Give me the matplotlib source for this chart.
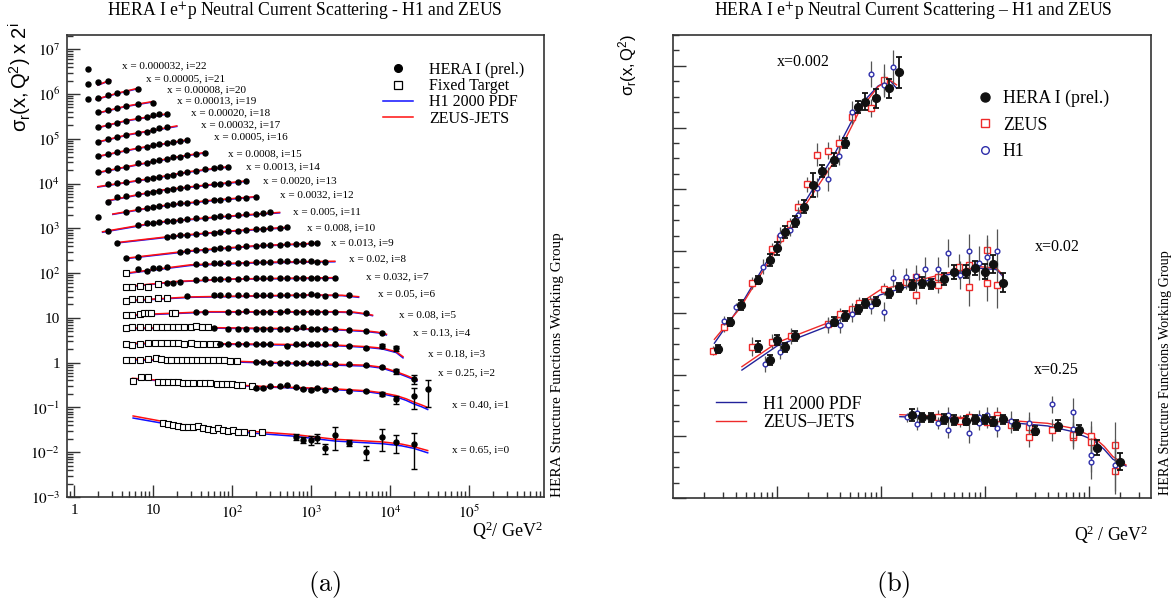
import matplotlib
matplotlib.use('Agg')
from matplotlib import pyplot as plt
from matplotlib.lines import Line2D
from matplotlib.ticker import FixedLocator, FixedFormatter, LogLocator, MultipleLocator, NullFormatter

plt.rcParams['font.family'] = ['Liberation Serif', 'DejaVu Serif']
plt.rcParams['mathtext.fontset'] = 'stix'

# ---------------- (a) all x bins, sigma_r x 2^i ----------------
x_labels = ['0.65', '0.40', '0.25', '0.18', '0.13', '0.08', '0.05', '0.032', '0.02', '0.013',
            '0.008', '0.005', '0.0032', '0.0020', '0.0013', '0.0008', '0.0005', '0.00032',
            '0.00020', '0.00013', '0.00008', '0.00005', '0.000032']

hera_q2 = [
    [650, 800, 1000, 1200, 1500, 2000, 3000, 5000, 8000, 12000, 20000],
    [200, 250, 300, 400, 500, 650, 800, 1000, 1200, 1500, 2000, 3000, 5000, 8000, 12000, 20000, 30000],
    [200, 250, 300, 400, 500, 650, 800, 1000, 1200, 1500, 2000, 3000, 5000, 8000, 12000, 20000],
    [70, 90, 120, 150, 200, 250, 300, 500, 650, 800, 1000, 1200, 1500, 2000, 3000, 5000, 8000, 12000],
    [60, 90, 120, 150, 200, 250, 300, 400, 500, 650, 800, 1000, 1200, 1500, 2000, 3000, 5000, 8000],
    [35, 45, 90, 120, 150, 200, 250, 300, 400, 500, 650, 800, 1000, 1200, 1500, 2000, 3000, 5000],
    [27, 60, 70, 90, 120, 150, 200, 250, 300, 400, 500, 650, 800, 1000, 1200, 1500, 2000, 3000],
    [15, 18, 22, 35, 45, 60, 70, 90, 120, 150, 200, 250, 300, 400, 500, 650, 800, 1000, 1200, 1500, 2000],
    [6.5, 8.5, 10, 12, 15, 35, 45, 60, 70, 90, 120, 150, 200, 250, 300, 400, 500, 650, 800, 1000, 1200, 1500],
    [4.5, 6.5, 22, 27, 35, 45, 60, 70, 90, 120, 150, 200, 250, 300, 400, 500, 650, 800, 1000, 1200],
    [3.5, 15, 18, 22, 27, 35, 45, 60, 70, 90, 120, 150, 200, 250, 300, 400, 500],
    [2.7, 6.5, 8.5, 10, 12, 15, 18, 22, 27, 35, 45, 60, 70, 90, 120, 150, 200, 250, 300],
    [2, 4.5, 6.5, 8.5, 10, 12, 15, 18, 22, 27, 35, 45, 60, 70, 90, 120, 150, 200],
    [2.7, 3.5, 4.5, 6.5, 8.5, 10, 12, 15, 18, 22, 27, 35, 45, 60, 70, 90, 120, 150],
    [2.7, 3.5, 4.5, 6.5, 8.5, 10, 12, 15, 18, 22, 27, 35, 45, 60, 70, 90],
    [2, 2.7, 3.5, 4.5, 6.5, 8.5, 10, 12, 15, 18, 22, 27, 35, 45],
    [2, 2.7, 3.5, 4.5, 6.5, 8.5, 10, 12, 15, 18, 22, 27],
    [2, 2.7, 3.5, 4.5, 6.5, 8.5, 10, 12, 15],
    [2, 2.7, 3.5, 4.5, 6.5, 8.5, 10, 12, 15],
    [2, 2.7, 3.5, 4.5, 6.5, 10],
    [1.5, 2, 2.7, 3.5, 4.5, 6.5],
    [1.5, 2, 2.7],
    [1.5],
]
hera_sig = [
    [0.0222, 0.0188, 0.0188, 0.0205, 0.0122, 0.0243, 0.0163, 0.0103, 0.0216, 0.0167, 0.0153],
    [0.134, 0.134, 0.150, 0.150, 0.158, 0.141, 0.127, 0.123, 0.134, 0.123, 0.127, 0.116, 0.116, 0.098, 0.076, 0.090, 0.127],
    [0.26, 0.26, 0.25, 0.25, 0.25, 0.25, 0.24, 0.24, 0.24, 0.24, 0.23, 0.23, 0.22, 0.20, 0.16, 0.11],
    [0.33, 0.33, 0.33, 0.33, 0.33, 0.33, 0.33, 0.30, 0.32, 0.32, 0.33, 0.32, 0.32, 0.32, 0.30, 0.26, 0.30, 0.26],
    [0.38, 0.35, 0.35, 0.35, 0.35, 0.35, 0.35, 0.35, 0.35, 0.37, 0.40, 0.35, 0.35, 0.35, 0.35, 0.34, 0.32, 0.29],
    [0.43, 0.42, 0.43, 0.43, 0.44, 0.43, 0.43, 0.43, 0.43, 0.44, 0.43, 0.43, 0.43, 0.43, 0.42, 0.43, 0.42, 0.41],
    [0.47, 0.51, 0.51, 0.51, 0.51, 0.51, 0.51, 0.52, 0.51, 0.51, 0.51, 0.52, 0.51, 0.53, 0.51, 0.48, 0.51, 0.52],
    [0.46, 0.48, 0.50, 0.55, 0.57, 0.58, 0.58, 0.58, 0.58, 0.60, 0.60, 0.60, 0.60, 0.60, 0.61, 0.61, 0.61, 0.61, 0.61, 0.60, 0.62],
    [0.48, 0.44, 0.50, 0.50, 0.53, 0.62, 0.62, 0.65, 0.65, 0.67, 0.67, 0.67, 0.68, 0.70, 0.70, 0.73, 0.73, 0.73, 0.72, 0.73, 0.71, 0.70],
    [0.42, 0.45, 0.59, 0.61, 0.63, 0.65, 0.68, 0.70, 0.72, 0.75, 0.78, 0.80, 0.82, 0.83, 0.84, 0.86, 0.87, 0.89, 0.91, 0.91],
    [0.47, 0.64, 0.66, 0.68, 0.71, 0.73, 0.76, 0.78, 0.81, 0.84, 0.87, 0.90, 0.93, 0.96, 0.98, 1.01, 1.03],
    [0.43, 0.58, 0.63, 0.65, 0.68, 0.70, 0.72, 0.75, 0.78, 0.82, 0.84, 0.87, 0.91, 0.94, 0.97, 1.00, 1.04, 1.07, 1.11],
    [0.43, 0.58, 0.65, 0.70, 0.73, 0.77, 0.81, 0.84, 0.89, 0.92, 0.96, 1.00, 1.05, 1.07, 1.11, 1.15, 1.18, 1.25],
    [0.48, 0.60, 0.65, 0.72, 0.77, 0.81, 0.85, 0.89, 0.94, 0.99, 1.03, 1.08, 1.12, 1.18, 1.22, 1.26, 1.33, 1.40],
    [0.59, 0.62, 0.65, 0.72, 0.77, 0.81, 0.86, 0.92, 0.96, 1.04, 1.11, 1.19, 1.27, 1.38, 1.41, 1.46],
    [0.54, 0.61, 0.67, 0.73, 0.87, 0.89, 0.97, 1.03, 1.08, 1.18, 1.22, 1.33, 1.40, 1.49],
    [0.63, 0.70, 0.79, 0.86, 0.94, 1.02, 1.11, 1.17, 1.22, 1.32, 1.39, 1.44],
    [0.66, 0.75, 0.83, 0.93, 1.02, 1.10, 1.20, 1.31, 1.38],
    [0.69, 0.78, 0.87, 0.97, 1.10, 1.19, 1.30, 1.37, 1.37],
    [0.75, 0.84, 0.92, 1.03, 1.13, 1.22],
    [0.75, 0.79, 0.91, 0.99, 1.08, 1.22],
    [0.79, 0.90, 0.95],
    [0.87],
]
# visible error bars only in the high-x bins
hera_err = {
    0: [0.0034, 0.0029, 0.0044, 0.0048, 0.0031, 0.0128, 0.0027, 0.0035, 0.0107, 0.0070, 0.0110],
    1: [0.004, 0.004, 0.004, 0.004, 0.004, 0.004, 0.004, 0.004, 0.004, 0.005, 0.005, 0.006, 0.006, 0.010, 0.015, 0.045, 0.076],
    2: [0.005, 0.005, 0.005, 0.005, 0.005, 0.005, 0.005, 0.005, 0.005, 0.005, 0.006, 0.006, 0.007, 0.010, 0.022, 0.025],
    3: [0.005, 0.005, 0.005, 0.005, 0.005, 0.005, 0.005, 0.005, 0.005, 0.005, 0.005, 0.005, 0.006, 0.006, 0.008, 0.012, 0.030, 0.034],
}

ft_q2 = [
    [13.5, 15.6, 18.1, 20.9, 24.2, 28, 32.4, 37.5, 43.4, 50, 58, 67, 78, 90, 104, 120, 140, 177, 238],
    [5.6, 7.0, 8.7, 11.7, 13.5, 15.6, 18.1, 20.9, 24.2, 28, 32.4, 39.3, 45.5, 52.6, 63.9, 73.8, 85.5, 98.9, 114, 133, 177],
    [4.5, 5.4, 6.8, 8.7, 11, 12.5, 15, 17, 20, 23, 27, 31, 36, 42, 50, 58, 68, 80, 95, 114],
    [4.5, 5.4, 6.8, 8.7, 10.5, 12.5, 15, 18, 21, 25, 30, 36, 43, 52, 62],
    [4.5, 5.4, 6.8, 8.7, 11, 13, 15, 18, 21, 25, 30, 35, 42, 50],
    [4.5, 5.4, 6.8, 7.8, 8.7, 9.5, 17.2, 18.9],
    [4.5, 5.4, 6.8, 8.7, 11.6, 15.1],
    [4.5, 5.4, 6.8, 8.7, 11.6],
    [4.5],
]
ft_sig = [
    [0.0443, 0.0421, 0.0406, 0.0392, 0.0372, 0.0372, 0.0361, 0.0386, 0.0343, 0.0326, 0.0315, 0.0343, 0.0315, 0.0304, 0.0315, 0.0289, 0.0280, 0.0275, 0.0289],
    [0.198, 0.236, 0.236, 0.188, 0.188, 0.188, 0.185, 0.182, 0.178, 0.178, 0.178, 0.173, 0.173, 0.173, 0.167, 0.167, 0.167, 0.167, 0.158, 0.158, 0.150],
    [0.29, 0.29, 0.29, 0.30, 0.31, 0.30, 0.29, 0.29, 0.29, 0.29, 0.29, 0.29, 0.28, 0.28, 0.28, 0.28, 0.28, 0.28, 0.27, 0.27],
    [0.33, 0.31, 0.33, 0.35, 0.35, 0.35, 0.35, 0.35, 0.35, 0.33, 0.35, 0.33, 0.33, 0.33, 0.33],
    [0.38, 0.39, 0.39, 0.40, 0.40, 0.40, 0.40, 0.40, 0.40, 0.40, 0.40, 0.41, 0.39, 0.39],
    [0.36, 0.36, 0.38, 0.40, 0.40, 0.40, 0.41, 0.41],
    [0.38, 0.41, 0.41, 0.41, 0.43, 0.43],
    [0.39, 0.39, 0.40, 0.38, 0.45],
    [0.39],
]

fit_q2 = [
    [5.6, 20, 100, 600, 2000, 8000, 14000, 20000, 30000],
    [5.5, 20, 200, 2000, 5000, 8000, 12000, 16000, 20000, 25000, 30000],
    [4.5, 100, 2000, 5000, 8000, 12000, 16000, 22000],
    [4.5, 100, 2000, 5000, 8000, 12000, 14600],
    [4.5, 50, 2000, 5000, 7000, 9000],
    [4.5, 50, 2000, 3500, 4800, 6000],
    [4.5, 30, 1000, 2500, 4000],
    [4.5, 20, 100, 2000],
    [4.5, 30, 200, 2000],
    [4.5, 30, 200, 1200],
    [3.5, 20, 100, 500],
    [2.3, 12, 60, 400],
    [3.1, 12, 50, 200],
    [2.7, 12, 40, 150],
    [2, 10, 30, 90],
    [2, 8.5, 20, 45],
    [2, 6.5, 28],
    [2, 5, 20],
    [2, 4.5, 15],
    [2, 4.5, 10],
    [1.9, 3.5, 6.5],
    [2, 2.9],
    [],
]
zeus_fit = [
    [0.0645, 0.0427, 0.0315, 0.0250, 0.0195, 0.0170, 0.0152, 0.0133, 0.0109],
    [0.224, 0.19, 0.15, 0.13, 0.118, 0.106, 0.092, 0.078, 0.066, 0.057, 0.05],
    [0.30, 0.27, 0.23, 0.22, 0.197, 0.157, 0.13, 0.103],
    [0.34, 0.33, 0.31, 0.285, 0.263, 0.22, 0.17],
    [0.37, 0.38, 0.35, 0.32, 0.30, 0.27],
    [0.36, 0.43, 0.43, 0.42, 0.39, 0.36],
    [0.38, 0.46, 0.51, 0.50, 0.465],
    [0.39, 0.51, 0.58, 0.62],
    [0.39, 0.60, 0.68, 0.72],
    [0.42, 0.62, 0.80, 0.91],
    [0.47, 0.67, 0.86, 1.03],
    [0.41, 0.68, 0.87, 1.11],
    [0.51, 0.77, 1.02, 1.25],
    [0.51, 0.86, 1.10, 1.40],
    [0.52, 0.81, 1.14, 1.46],
    [0.54, 0.90, 1.20, 1.51],
    [0.62, 0.95, 1.46],
    [0.65, 0.96, 1.48],
    [0.68, 0.97, 1.38],
    [0.72, 1.02, 1.30],
    [0.73, 0.99, 1.29],
    [0.76, 0.98],
    [],
]
h1_fit = [
    [0.058, 0.039, 0.029, 0.0229, 0.0178, 0.0155, 0.0139, 0.0122, 0.0097],
    [0.218, 0.185, 0.146, 0.125, 0.113, 0.100, 0.086, 0.072, 0.060, 0.052, 0.045],
    [0.29, 0.26, 0.22, 0.21, 0.188, 0.150, 0.123, 0.098],
    [0.33, 0.32, 0.30, 0.275, 0.253, 0.21, 0.16],
    [0.36, 0.37, 0.34, 0.31, 0.29, 0.26],
    [0.35, 0.42, 0.42, 0.41, 0.38, 0.35],
    [0.37, 0.45, 0.50, 0.49, 0.45],
    [0.38, 0.50, 0.57, 0.60],
    [0.38, 0.58, 0.66, 0.70],
    [0.41, 0.60, 0.78, 0.89],
    [0.46, 0.65, 0.84, 1.00],
    [0.40, 0.66, 0.85, 1.08],
    [0.50, 0.75, 0.99, 1.22],
    [0.50, 0.84, 1.07, 1.36],
    [0.51, 0.79, 1.11, 1.42],
    [0.53, 0.88, 1.17, 1.47],
    [0.61, 0.93, 1.42],
    [0.64, 0.94, 1.44],
    [0.67, 0.95, 1.35],
    [0.71, 1.00, 1.27],
    [0.72, 0.97, 1.26],
    [0.75, 0.96],
    [],
]

# label anchor (axes fraction) of each x-bin text
lab_pos = [(0.807, 0.102), (0.807, 0.199), (0.778, 0.268), (0.757, 0.310), (0.725, 0.355),
           (0.696, 0.394), (0.652, 0.439), (0.627, 0.476), (0.591, 0.515), (0.554, 0.550),
           (0.503, 0.582), (0.474, 0.617), (0.447, 0.654), (0.411, 0.684), (0.375, 0.714),
           (0.338, 0.742), (0.308, 0.779), (0.281, 0.805), (0.260, 0.831), (0.231, 0.857),
           (0.210, 0.881), (0.166, 0.905), (0.115, 0.933)]

# ---------------- (b) three x bins ----------------
q2_002_hera = [2.7, 3.5, 4.5, 6.5, 8.5, 10, 12, 15, 18, 22, 27, 35, 45, 60, 70, 90, 120, 150]
s_002_hera = [9.66, 11.43, 12.51, 14.13, 15.42, 16.18, 17.22, 17.91, 18.88, 20.28, 21.21, 21.91, 22.99, 25.32, 25.68, 25.90, 26.55, 27.59]
e_002_hera = [0.26, 0.26, 0.3, 0.26, 0.38, 0.43, 0.38, 0.38, 0.43, 0.75, 0.38, 0.43, 0.32, 0.38, 0.54, 0.6, 0.62, 1.0]
q2_002_zeus = [2.4, 3.1, 5.8, 8.9, 10.7, 13.3, 16.0, 19.6, 24.1, 31.1, 39.7, 53, 80, 107]
s_002_zeus = [9.55, 11.06, 13.95, 16.12, 16.83, 17.76, 18.84, 20.33, 22.23, 22.51, 22.99, 24.71, 25.26, 27.09]
e_002_zeus = [0.3, 0.3, 0.4, 0.4, 0.4, 0.4, 0.5, 0.5, 0.75, 0.55, 0.5, 0.5, 0.6, 1.0]
q2_002_h1 = [3.1, 4.0, 7.4, 10.7, 13.3, 16.0, 24.1, 31.1, 39.7, 53, 80, 107, 131]
s_002_h1 = [11.49, 12.36, 14.99, 17.04, 17.37, 18.34, 20.11, 20.67, 22.18, 25.0, 27.48, 26.77, 27.95]
e_002_h1 = [0.3, 0.3, 0.5, 0.5, 0.4, 0.5, 0.6, 0.8, 0.6, 0.7, 0.86, 0.8, 1.1]
q2_002_fit = [2.5, 4.4, 8.9, 16.6, 34.7, 62.8, 94, 121, 141]
zeus_002 = [10.28, 12.29, 15.64, 18.45, 21.69, 25.15, 26.66, 27.09, 26.77]
h1_002 = [10.03, 12.40, 15.86, 18.66, 22.12, 25.45, 26.70, 27.09, 26.55]

q2_02_hera = [6.5, 8.5, 10, 12, 15, 35, 45, 60, 70, 90, 120, 150, 200, 250, 300, 400, 500, 650, 800, 1000, 1200, 1500]
s_02_hera = [9.81, 8.94, 10.24, 9.77, 10.5, 11.43, 11.8, 12.23, 12.62, 12.72, 13.27, 13.66, 13.8, 13.95, 13.87, 14.17, 14.63, 14.67, 14.93, 14.67, 15.15, 13.95]
e_02_hera = [0.35, 0.3, 0.3, 0.3, 0.3, 0.3, 0.3, 0.3, 0.3, 0.3, 0.3, 0.3, 0.35, 0.35, 0.35, 0.4, 0.45, 0.4, 0.45, 0.5, 0.6, 0.6]
q2_02_zeus = [5.8, 8.9, 13.5, 31, 40, 53, 62, 78, 107, 173, 216, 216, 351, 351, 563, 705, 705, 1050, 1050, 1310]
s_02_zeus = [9.81, 10.13, 10.5, 11.28, 11.92, 12.23, 12.62, 12.72, 13.53, 14.02, 13.16, 14.3, 13.8, 14.34, 14.99, 13.66, 15.1, 13.95, 16.07, 13.8]
e_02_zeus = [0.6, 0.5, 0.5, 0.4, 0.4, 0.4, 0.4, 0.4, 0.4, 0.5, 0.6, 0.5, 0.5, 0.5, 0.8, 1.2, 0.8, 1.2, 1.0, 1.5]
q2_02_h1 = [7.6, 10.7, 31, 40, 53, 80, 107, 131, 173, 216, 265, 355, 445, 574, 705, 880, 1050, 1310]
s_02_h1 = [8.68, 9.48, 11.21, 11.21, 11.92, 12.44, 12.07, 14.24, 14.3, 14.39, 14.82, 14.82, 15.9, 14.45, 16.03, 15.21, 15.6, 16.03]
e_02_h1 = [0.5, 0.5, 0.5, 0.5, 0.5, 0.5, 0.6, 0.6, 0.6, 0.7, 0.8, 0.8, 0.9, 0.9, 1.1, 1.1, 1.2, 1.4]
q2_02_fit = [4.6, 10, 35, 98, 425, 890, 1290, 1490]
zeus_02 = [8.51, 10.07, 11.49, 13.48, 14.56, 14.99, 14.89, 14.45]
h1_02 = [8.29, 9.85, 11.28, 13.16, 14.45, 14.89, 14.80, 14.36]

q2_25_hera = [200, 250, 300, 400, 500, 650, 800, 1000, 1200, 1500, 2000, 3000, 5000, 8000, 12000, 20000]
s_25_hera = [5.38, 5.23, 5.23, 5.12, 5.06, 5.01, 5.1, 5.1, 4.95, 5.1, 4.73, 4.36, 4.69, 4.41, 3.26, 2.35]
e_25_hera = [0.37, 0.3, 0.3, 0.3, 0.3, 0.3, 0.3, 0.3, 0.3, 0.3, 0.3, 0.3, 0.35, 0.35, 0.48, 0.54]
q2_25_zeus = [355, 574, 705, 1050, 1310, 1310, 1770, 2660, 2660, 4370, 7030, 7030, 10500, 10500, 17700, 17700]
s_25_zeus = [5.27, 5.01, 5.23, 4.95, 5.38, 5.16, 4.73, 4.62, 3.93, 4.41, 3.97, 4.1, 4.02, 3.66, 3.43, 1.77]
e_25_zeus = [0.4, 0.4, 0.4, 0.4, 0.5, 0.4, 0.5, 0.6, 0.6, 0.7, 0.8, 0.8, 1.0, 1.0, 1.5, 1.5]
q2_25_h1 = [176, 220, 220, 355, 445, 445, 705, 880, 880, 1050, 1310, 1770, 2660, 4370, 7030, 7030, 10400, 10400, 17700]
s_25_h1 = [5.23, 5.49, 4.8, 4.88, 5.38, 4.41, 4.19, 5.23, 4.88, 5.38, 4.56, 5.01, 4.88, 6.07, 5.59, 4.45, 2.79, 2.35, 2.14]
e_25_h1 = [0.3, 0.4, 0.4, 0.4, 0.5, 0.5, 0.6, 0.5, 0.5, 0.5, 0.6, 0.6, 0.7, 0.56, 0.9, 0.9, 1.1, 1.1, 1.7]
q2_25_fit = [152, 900, 4000, 7000, 11000, 14000, 17000, 22700]
zeus_25 = [5.40, 5.16, 4.84, 4.52, 3.97, 3.35, 2.68, 2.14]
h1_25 = [5.27, 5.06, 4.67, 4.30, 3.76, 3.15, 2.51, 2.07]

W, H = 1174, 606
fig = plt.figure(figsize=(W / 100, H / 100), dpi=100)

RED = '#ff1010'
BLUE = '#1010ff'
SPINE = '#333333'

# ================= panel (a) =================
ax = fig.add_axes([67 / W, 109 / H, 477 / W, 462 / H])
ax.set_xscale('log')
ax.set_yscale('log')

for i in range(len(x_labels)):
    f = 2 ** i
    if fit_q2[i]:
        ax.plot(fit_q2[i], [v * f for v in h1_fit[i]], color=BLUE, lw=1.1, zorder=2)
        ax.plot(fit_q2[i], [v * f for v in zeus_fit[i]], color=RED, lw=1.1, zorder=2.1)
    if i < len(ft_q2):
        ax.plot(ft_q2[i], [v * f for v in ft_sig[i]], 's', mfc='white', mec='k',
                ms=4.2, mew=0.8, zorder=3)
    ys = [v * f for v in hera_sig[i]]
    if i in hera_err:
        ax.errorbar(hera_q2[i], ys, yerr=[e * f for e in hera_err[i]], fmt='o', color='k',
                    ms=3.6, elinewidth=1.0, capsize=2, capthick=1.0, zorder=4)
    else:
        ax.plot(hera_q2[i], ys, 'o', color='k', ms=3.6, zorder=4)
    ax.text(lab_pos[i][0], lab_pos[i][1], 'x = %s, i=%d' % (x_labels[i], i),
            transform=ax.transAxes, fontsize=8, va='center', ha='left')

ax.set_xlim(0.815, 8.9e5)
ax.set_ylim(1e-3, 2.08e7)

ax.xaxis.set_major_locator(FixedLocator([1, 10, 1e2, 1e3, 1e4, 1e5]))
ax.xaxis.set_major_formatter(FixedFormatter(['1', '10', '$10^{2}$', '$10^{3}$', '$10^{4}$', '$10^{5}$']))
ax.xaxis.set_minor_locator(LogLocator(base=10, subs=range(2, 10), numticks=20))
ax.xaxis.set_minor_formatter(NullFormatter())
ydec = [1e-3, 1e-2, 1e-1, 1, 10, 1e2, 1e3, 1e4, 1e5, 1e6, 1e7]
ax.yaxis.set_major_locator(FixedLocator(ydec))
ax.yaxis.set_major_formatter(FixedFormatter(['$10^{-3}$', '$10^{-2}$', '$10^{-1}$', '1', '10',
                                             '$10^{2}$', '$10^{3}$', '$10^{4}$', '$10^{5}$',
                                             '$10^{6}$', '$10^{7}$']))
ax.yaxis.set_minor_locator(LogLocator(base=10, subs=range(2, 10), numticks=20))
ax.yaxis.set_minor_formatter(NullFormatter())
ax.tick_params(which='both', direction='in', top=False, right=False, width=1.0, color=SPINE)
ax.tick_params(which='major', length=9, labelsize=11, pad=5)
ax.tick_params(which='minor', length=4.5)
for s in ax.spines.values():
    s.set_linewidth(1.2)
    s.set_color(SPINE)

hand_a = [Line2D([], [], ls='none', marker='o', color='k', ms=5.5),
          Line2D([], [], ls='none', marker='s', mfc='white', mec='k', ms=6, mew=0.9),
          Line2D([], [], color=BLUE, lw=1.1),
          Line2D([], [], color=RED, lw=1.1)]
ax.legend(hand_a, ['HERA I (prel.)', 'Fixed Target', 'H1 2000 PDF', 'ZEUS-JETS'],
          loc='upper left', bbox_to_anchor=(0.6625, 0.942), frameon=False, fontsize=11.5,
          handlelength=1.9, handletextpad=1.0, labelspacing=0.02, borderpad=0,
          borderaxespad=0)

fig.text(305 / W, 1 - 12 / H, 'HERA I e$^{+}$p Neutral Current Scattering - H1 and ZEUS',
         ha='center', va='center', fontsize=12.7)
fig.text(20 / W, 1 - 77 / H, r'$\mathregular{\sigma_{r}(x,Q^{2})\ x\ 2^{i}}$', rotation=90,
         ha='center', va='center', fontsize=14.5, family=['Liberation Sans', 'DejaVu Sans'])
fig.text(543 / W, 1 - 531 / H, r'$\mathregular{Q^{2}/\ GeV^{2}}$', ha='right', va='center',
         fontsize=13)
fig.text(557 / W, 1 - 497 / H, 'HERA Structure Functions Working Group', rotation=90,
         ha='center', va='bottom', fontsize=11)
fig.text(325 / W, 1 - 584 / H, r'$\mathrm{(a)}$', math_fontfamily='cm', ha='center',
         va='center', fontsize=19)

# ================= panel (b) =================
bx = fig.add_axes([673 / W, 108 / H, 478 / W, 463 / H])
bx.set_xscale('log')

NAVY = '#22229a'
ZRED = '#ee2a2a'
H1B = '#2e2eaa'
EGREY = '#555555'

for q, z, h in [(q2_002_fit, zeus_002, h1_002), (q2_02_fit, zeus_02, h1_02),
                (q2_25_fit, zeus_25, h1_25)]:
    bx.plot(q, h, color=NAVY, lw=1.0, zorder=2)
    bx.plot(q, z, color=ZRED, lw=1.0, zorder=2.1)

for q, s, e in [(q2_002_zeus, s_002_zeus, e_002_zeus), (q2_02_zeus, s_02_zeus, e_02_zeus),
                (q2_25_zeus, s_25_zeus, e_25_zeus)]:
    bx.errorbar(q, s, yerr=e, fmt='s', mfc='white', mec=ZRED, mew=1.0, ms=4,
                ecolor=EGREY, elinewidth=0.9, capsize=0, zorder=3)
for q, s, e in [(q2_002_h1, s_002_h1, e_002_h1), (q2_02_h1, s_02_h1, e_02_h1),
                (q2_25_h1, s_25_h1, e_25_h1)]:
    bx.errorbar(q, s, yerr=e, fmt='o', mfc='white', mec=H1B, mew=1.0, ms=3.4,
                ecolor=EGREY, elinewidth=0.9, capsize=0, zorder=3.1)
for q, s, e in [(q2_002_hera, s_002_hera, e_002_hera), (q2_02_hera, s_02_hera, e_02_hera),
                (q2_25_hera, s_25_hera, e_25_hera)]:
    bx.errorbar(q, s, yerr=e, fmt='o', color='#111111', ms=5.6, elinewidth=1.3,
                capsize=2.5, capthick=1.3, zorder=4)

bx.set_xlim(1, 3.95e4)
bx.set_ylim(0, 30)
bx.xaxis.set_major_locator(FixedLocator([10, 1e2, 1e3, 1e4]))
bx.xaxis.set_minor_locator(LogLocator(base=10, subs=range(2, 10), numticks=20))
bx.yaxis.set_major_locator(MultipleLocator(4))
bx.yaxis.set_minor_locator(MultipleLocator(1))
bx.tick_params(which='both', direction='in', top=False, right=False, labelleft=False,
               labelbottom=False, width=1.0, color=SPINE)
bx.tick_params(which='major', length=9)
bx.tick_params(which='minor', length=4.5)
for s in bx.spines.values():
    s.set_linewidth(1.2)
    s.set_color(SPINE)

bx.text(0.2176, 0.9417, 'x=0.002', transform=bx.transAxes, fontsize=11.5, va='center')
bx.text(0.7573, 0.5421, 'x=0.02', transform=bx.transAxes, fontsize=11.5, va='center')
bx.text(0.7552, 0.2765, 'x=0.25', transform=bx.transAxes, fontsize=11.5, va='center')

hand_b1 = [Line2D([], [], ls='none', marker='o', color='#111111', ms=6.5),
           Line2D([], [], ls='none', marker='s', mfc='white', mec=ZRED, mew=1.0, ms=5.5),
           Line2D([], [], ls='none', marker='o', mfc='white', mec=H1B, mew=1.0, ms=5.5)]
leg1 = bx.legend(hand_b1, ['HERA I (prel.)', 'ZEUS', 'H1'], loc='upper left',
                 bbox_to_anchor=(0.634, 0.882), frameon=False, fontsize=12.8,
                 handlelength=1.0, handletextpad=0.5, labelspacing=0.54, borderpad=0,
                 borderaxespad=0)
bx.add_artist(leg1)
hand_b2 = [Line2D([], [], color=NAVY, lw=1.0), Line2D([], [], color=ZRED, lw=1.0)]
bx.legend(hand_b2, ['H1 2000 PDF', 'ZEUS\u2013JETS'], loc='upper left',
          bbox_to_anchor=(0.090, 0.221), frameon=False, fontsize=12.8,
          handlelength=1.69, handletextpad=0.96, labelspacing=0.07, borderpad=0,
          borderaxespad=0)

fig.text(913 / W, 1 - 12 / H, 'HERA I e$^{+}$p Neutral Current Scattering \u2013 H1 and ZEUS',
         ha='center', va='center', fontsize=12.7)
fig.text(628 / W, 1 - 65 / H, r'$\mathregular{\sigma_{r}(x,Q^{2})}$', rotation=90,
         ha='center', va='center', fontsize=12, family=['Liberation Sans', 'DejaVu Sans'])
fig.text(1148 / W, 1 - 535 / H, r'$\mathregular{Q^{2}\ /\ GeV^{2}}$', ha='right',
         va='center', fontsize=12.8)
fig.text(1165 / W, 1 - 495 / H, 'HERA Structure Functions Working Group', rotation=90,
         ha='center', va='bottom', fontsize=10.2)
fig.text(893 / W, 1 - 584 / H, r'$\mathrm{(b)}$', math_fontfamily='cm', ha='center',
         va='center', fontsize=19)

fig.savefig('out.png', dpi=100)
plt.close(fig)
